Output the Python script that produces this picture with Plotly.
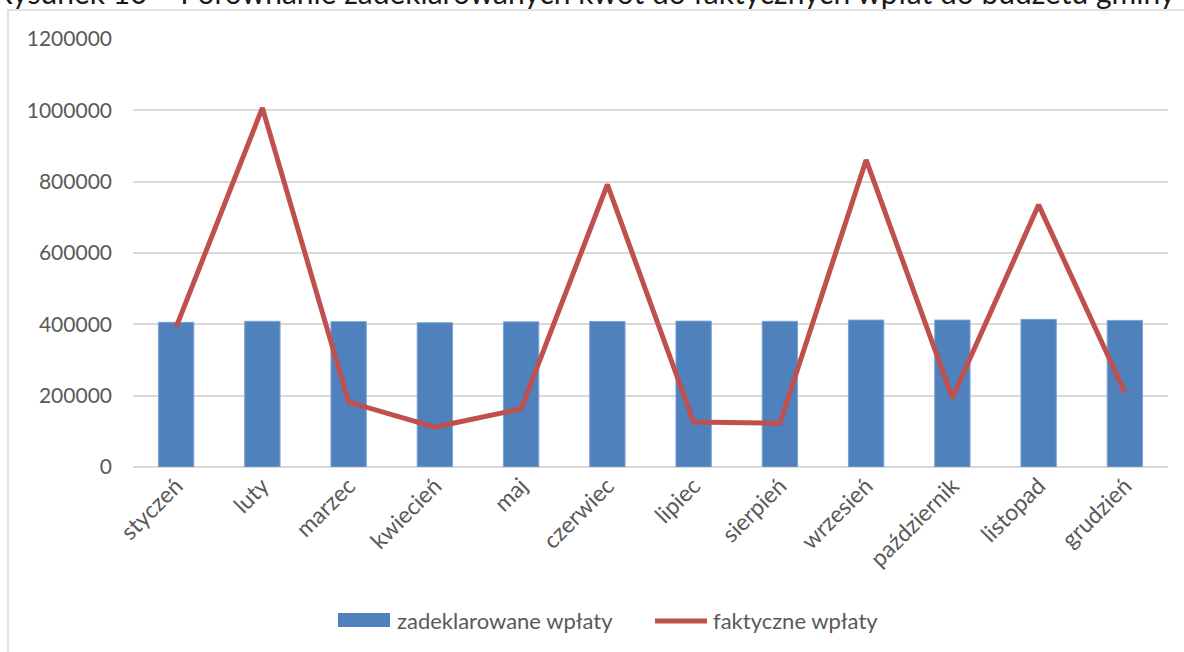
import plotly.graph_objects as go

miesiace = ['styczeń', 'luty', 'marzec', 'kwiecień', 'maj', 'czerwiec',
            'lipiec', 'sierpień', 'wrzesień', 'październik', 'listopad', 'grudzień']
zadeklarowane = [405700, 408500, 407500, 404600, 407000, 408000,
                 409000, 408500, 412000, 412000, 414000, 411000]
faktyczne = [392000, 1007000, 182000, 112000, 163000, 792000,
             126000, 122500, 861000, 194000, 735000, 209000]
y_ticks = [0, 200000, 400000, 600000, 800000, 1000000, 1200000]
nazwy = ['zadeklarowane wpłaty', 'faktyczne wpłaty']

FONT = "Lato"
GRAY = "#595959"
BLUE = "#4F81BD"
RED = "#C0504D"

fig = go.Figure()
fig.add_trace(go.Bar(
    x=miesiace, y=zadeklarowane, name=nazwy[0],
    marker=dict(color=BLUE, line=dict(color='#7FA3D3', width=1)),
    width=0.41,
))
fig.add_trace(go.Scatter(
    x=miesiace, y=faktyczne, name=nazwy[1], mode='lines',
    line=dict(color=RED, width=5),
))

W, H = 1184, 652
L, R, T, B = 133, 16, 39, 185
pw, ph = W - L - R, H - T - B

# piksele -> współrzędne "paper"
def px_x(p):
    return (p - L) / pw

def px_y(p):
    return (H - B - p) / ph

shapes = [
    # ramka wykresu
    dict(type='rect', xref='paper', yref='paper',
         x0=px_x(8), x1=px_x(1210), y0=px_y(680), y1=px_y(10),
         line=dict(color='#D9D9D9', width=1.5), fillcolor='rgba(0,0,0,0)',
         layer='below'),
    # legenda
    dict(type='rect', xref='paper', yref='paper',
         x0=px_x(338), x1=px_x(390), y0=px_y(627), y1=px_y(613),
         line=dict(width=0), fillcolor=BLUE),
    dict(type='line', xref='paper', yref='paper',
         x0=px_x(655), x1=px_x(707), y0=px_y(621), y1=px_y(621),
         line=dict(color=RED, width=5)),
]

annotations = [
    dict(text='Rysunek 10 – Porównanie zadeklarowanych kwot do faktycznych wpłat do budżetu gminy',
         xref='paper', yref='paper', x=px_x(585), y=px_y(12),
         xanchor='center', yanchor='bottom', showarrow=False,
         font=dict(family=FONT, size=30, color='#1a1a1a')),
    dict(text=nazwy[0], xref='paper', yref='paper', x=px_x(395), y=px_y(620),
         xanchor='left', yanchor='middle', showarrow=False,
         font=dict(family=FONT, size=22, color=GRAY)),
    dict(text=nazwy[1], xref='paper', yref='paper', x=px_x(711), y=px_y(620),
         xanchor='left', yanchor='middle', showarrow=False,
         font=dict(family=FONT, size=22, color=GRAY)),
]

fig.update_layout(
    width=W, height=H,
    margin=dict(l=L, r=R, t=T, b=B, autoexpand=False),
    plot_bgcolor='white', paper_bgcolor='white',
    font=dict(family=FONT, size=21, color=GRAY),
    showlegend=False,
    xaxis=dict(tickangle=-45, showgrid=False, showline=False, ticks='',
               automargin=False, tickfont=dict(size=23, color=GRAY)),
    yaxis=dict(range=[0, 1200000], tickvals=y_ticks,
               ticktext=[str(v) for v in y_ticks], showgrid=True,
               gridcolor='#D9D9D9', gridwidth=1.5, zeroline=True,
               zerolinecolor='#D9D9D9', zerolinewidth=1.5, ticks='',
               automargin=False, ticklabelstandoff=20,
               tickfont=dict(size=21, color=GRAY)),
    shapes=shapes,
    annotations=annotations,
)

# bez domyślnego marginesu strony
fig.write_html("out.html", config={'displayModeBar': False},
               post_script="document.body.style.margin='0';")
